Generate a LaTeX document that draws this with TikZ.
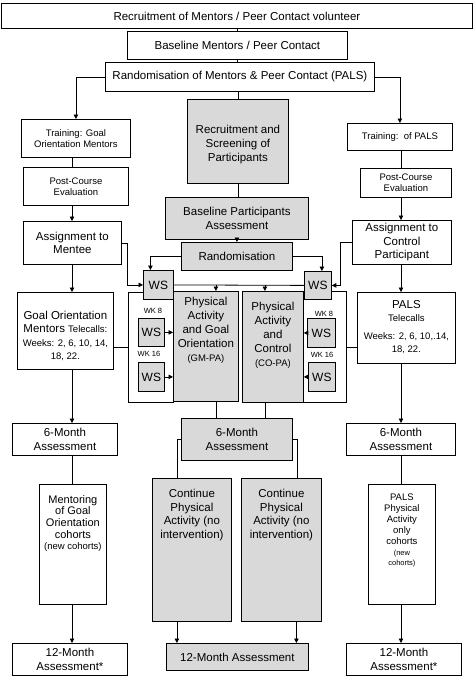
\documentclass[tikz,border=0pt]{standalone}
\usepackage{fontspec}
\setmainfont{Liberation Sans}
\usetikzlibrary{arrows.meta}
\newcommand\mkbox[7]{\node[#6, minimum width={(#4-#2)*1pt}, minimum height={(#5-#3)*1pt}] (#1) at (#2,#3) {#7};}
\newcommand\fsm{\fontsize{9.5}{13.5}\selectfont}
\newcommand\fsc{\fontsize{7.5}{10}\selectfont}
\begin{document}
\begin{tikzpicture}[x=1pt,y=-1pt,
  bx/.style={draw, line width=0.8pt, inner sep=0pt, anchor=north west, fill=white, align=center},
  gbx/.style={bx, fill=gray!30},
  txt/.style={align=center, inner sep=0pt},
  fA/.style={font=\fontsize{11.5}{13.5}\selectfont},
  fAw/.style={font=\fontsize{11.5}{14}\selectfont},
  fM/.style={font=\fontsize{11}{11.7}\selectfont},
  fB/.style={font=\fontsize{9.5}{11}\selectfont},
  fC/.style={font=\fontsize{7.5}{9}\selectfont},
  fW/.style={font=\fontsize{12}{14}\selectfont},
  ln/.style={line width=0.8pt},
  ar/.style={ln, -{Triangle[length=4.5pt,width=4.5pt]}},
]
\useasboundingbox (0,0) rectangle (473,677);
\fill[white] (0,0) rectangle (473,677);
% top
\mkbox{b1}{1}{3}{472}{28}{bx,fA}{Recruitment of Mentors / Peer Contact volunteer}
\mkbox{b2}{127}{31}{347}{59}{bx,fA}{Baseline Mentors / Peer Contact}
\mkbox{b3}{105}{62}{374}{91}{bx,fA}{Randomisation of Mentors \& Peer Contact (PALS)}
% left column
\mkbox{trainL}{21}{119}{130}{157}{bx,fB}{Training: Goal\\Orientation Mentors}
\mkbox{postL}{23}{167}{128}{205}{bx,fB}{Post-Course\\Evaluation}
\mkbox{assignL}{23}{221}{121}{264}{bx,fA}{Assignment to\\Mentee}
\mkbox{goalL}{17}{292}{113}{369}{bx}{}
\node[txt,fA] (goalT) at ([yshift=-5pt]goalL.center) {Goal Orientation\\Mentors {\fsm Telecalls:}\\{\fsm Weeks: 2, 6, 10, 14,}\\{\fsm 18, 22.}};
% right column
\mkbox{trainR}{347}{123}{452}{150}{bx,fB}{Training:\ \ of PALS}
\mkbox{postR}{360}{168}{451}{197}{bx,fB}{Post-Course\\Evaluation}
\mkbox{assignR}{352}{220}{451}{264}{bx,fA}{Assignment to\\Control\\Participant}
\mkbox{palsT}{357}{292}{455}{363}{bx}{}
% centre
\mkbox{rec}{187}{99}{288}{183}{gbx}{}
\node[txt,fAw] (recT) at ([yshift=-3pt]rec.center) {Recruitment and\\Screening of\\Participants};
\mkbox{base}{165}{197}{308}{239}{gbx,fAw}{Baseline Participants\\Assessment}
\mkbox{rand}{181}{242}{292}{270}{gbx,fA}{Randomisation}
\mkbox{outerL}{128}{292}{173}{402}{bx}{}
\mkbox{outerR}{303}{291}{346}{402}{bx}{}
\mkbox{gm}{173}{291}{238}{401}{gbx}{}
\mkbox{co}{242}{291}{303}{402}{gbx}{}
\mkbox{wsL}{143}{270}{173}{299}{gbx,fW}{WS}
\mkbox{wsR}{304}{271}{331}{299}{gbx,fW}{WS}
\mkbox{ws8L}{138}{318}{164}{346}{gbx,fW}{WS}
\mkbox{ws16L}{138}{362}{164}{391}{gbx,fW}{WS}
\mkbox{ws8R}{307}{318}{335}{347}{gbx,fW}{WS}
\mkbox{ws16R}{308}{362}{335}{391}{gbx,fW}{WS}
\node[txt,fC] (wk8L) at (153,311) {WK 8};
\node[txt,fC] (wk16L) at (149,354) {WK 16};
\node[txt,fC] (wk8R) at (324,314) {WK 8};
\node[txt,fC] (wk16R) at (322,355) {WK 16};
\mkbox{sixC}{181}{418}{292}{460}{gbx,fAw}{6-Month\\Assessment}
\mkbox{contL}{152}{478}{231}{621}{gbx}{}
\mkbox{contR}{241}{478}{321}{621}{gbx}{}
\mkbox{twC}{166}{643}{308}{670}{gbx,fA}{12-Month Assessment}
% lower sides
\mkbox{sixL}{12}{423}{117}{455}{bx,fAw}{6-Month\\Assessment}
\mkbox{mentL}{39}{484}{106}{604}{bx}{}
\mkbox{twL}{12}{643}{127}{675}{bx,fAw}{12-Month\\Assessment*}
\mkbox{sixR}{346}{423}{455}{455}{bx,fAw}{6-Month\\Assessment}
\mkbox{palsP}{368}{484}{435}{604}{bx}{}
\mkbox{twR}{346}{643}{461}{675}{bx,fAw}{12-Month\\Assessment*}
% top-aligned texts
\node[txt,fAw,anchor=north] (gmT) at ([yshift=-6pt]gm.north) {Physical\\Activity\\and Goal\\Orientation\\{\fsm (GM-PA)}};
\node[txt,fAw,anchor=north] (coT) at ([yshift=-11pt]co.north) {Physical\\Activity\\and\\Control\\{\fsm (CO-PA)}};
\node[txt,fA,anchor=north] (contLT) at ([yshift=-11pt]contL.north) {Continue\\Physical\\Activity (no\\intervention)};
\node[txt,fA,anchor=north] (contRT) at ([yshift=-11pt]contR.north) {Continue\\Physical\\Activity (no\\intervention)};
\node[txt,fM,anchor=north] (mentT) at ([yshift=-11pt]mentL.north) {Mentoring\\of Goal\\Orientation\\cohorts\\{\fsm (new cohorts)}};
\node[txt,fB,anchor=north] (palsPT) at ([yshift=-9.5pt]palsP.north) {PALS\\Physical\\Activity\\only\\cohorts\\{\fsc (new}\\[-1pt]{\fsc cohorts)}};
\node[txt,fA,anchor=north] (palsTT) at ([yshift=-8pt]palsT.north) {PALS\\{\fsm Telecalls}\\[4pt]{\fsm Weeks: 2, 6, 10,.14,}\\{\fsm 18, 22.}};
% connectors
\coordinate (colL) at (72,0);
\coordinate (colR) at (401,0);
\draw[ln] (b2.north |- b1.south) -- (b2.north);
\draw[ln] (b2.south) -- (b2.south |- b3.north);
\draw[ln] (rec.north |- b3.south) -- (rec.north);
\draw[ar] (b3.west) -| (trainL.north);
\draw[ar] (b3.east) -| (trainR.north);
\draw[ln] (trainL.south -| colL) -- (postL.north -| colL);
\draw[ar] (postL.south -| colL) -- (assignL.north -| colL);
\draw[ar] (assignL.east) -- ++(6,0) |- (wsL.west);
\draw[ar] (assignL.south -| colL) -- (goalL.north -| colL);
\draw[ln] (outerL.west) -- (outerL.west -| goalL.east);
\draw[ar] (goalL.south -| colL) -- (sixL.north -| colL);
\draw[ln] (sixL.south -| colL) -- (mentL.north -| colL);
\draw[ar] (mentL.south -| colL) -- (twL.north -| colL);
\draw[ln] (trainR.south -| colR) -- (postR.north -| colR);
\draw[ar] (postR.south -| colR) -- (assignR.north -| colR);
\draw[ar] (assignR.west) -- ++(-12,0) |- (wsR.east);
\draw[ar] (assignR.south -| colR) -- (palsT.north -| colR);
\draw[ln] (outerR.east) -- (outerR.east -| palsT.west);
\draw[ar] (palsT.south -| colR) -- (sixR.north -| colR);
\draw[ln] (sixR.south -| colR) -- (palsP.north -| colR);
\draw[ar] (palsP.south -| colR) -- (twR.north -| colR);
\draw[ln] (rec.south) -- (rec.south |- base.north);
\draw[ar] (base.south) -- (base.south |- rand.north);
\draw[ar] (rand.west) -| ([xshift=-8pt]wsL.north);
\draw[ar] (rand.east) -| ([xshift=4pt]wsR.north);
\draw[ln] (wsL.east) -- (wsR.west);
\draw[ar] ([xshift=10pt]gm.north |- wsL.east) -- ([xshift=10pt]gm.north);
\draw[ar] ([xshift=-8pt]co.north |- wsL.east) -- ([xshift=-8pt]co.north);
\draw[ar] (ws8L.east) -- (ws8L.east -| gm.west);
\draw[ar] (ws16L.east) -- (ws16L.east -| gm.west);
\draw[ar] (ws8R.west) -- (ws8R.west -| co.east);
\draw[ar] (ws16R.west) -- (ws16R.west -| co.east);
\draw[ln] ([xshift=10pt]gm.south) -- ([xshift=10pt]gm.south |- sixC.north);
\draw[ln] ([xshift=-8pt]co.south) -- ([xshift=-8pt]co.south |- sixC.north);
\draw[ln] (sixC.west) -| ([xshift=-15pt]contL.north);
\draw[ln] (sixC.east) -| ([xshift=16pt]contR.north);
\draw[ar] ([xshift=-15pt]contL.south) -- ([xshift=-15pt]contL.south |- twC.north);
\draw[ar] ([xshift=15pt]contR.south) -- ([xshift=15pt]contR.south |- twC.north);
\end{tikzpicture}
\end{document}
